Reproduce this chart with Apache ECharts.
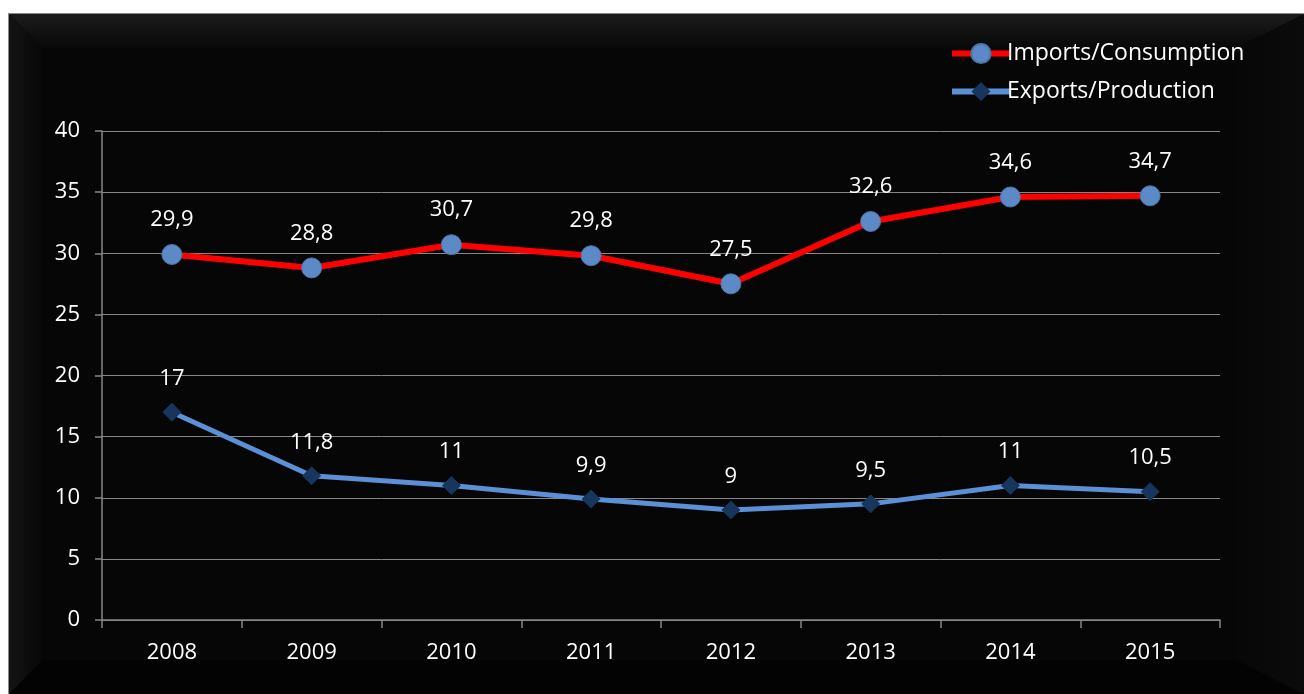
<!DOCTYPE html>
<html>
<head>
<meta charset="utf-8">
<script src="https://cdn.jsdelivr.net/npm/echarts@6/dist/echarts.min.js"></script>
<style>
  html, body { margin: 0; padding: 0; background: #ffffff; }
  #chart { width: 1304px; height: 694px; }
</style>
</head>
<body>
<div id="chart"></div>
<script>
// Yearly ratios (percent)
const years = ['2008', '2009', '2010', '2011', '2012', '2013', '2014', '2015'];
const importsConsumption = [29.9, 28.8, 30.7, 29.8, 27.5, 32.6, 34.6, 34.7];
const exportsProduction = [17, 11.8, 11, 9.9, 9, 9.5, 11, 10.5];
const seriesNames = ['Imports/Consumption', 'Exports/Production'];

const FONT = '"Open Sans", "Noto Sans", sans-serif';
const FS = 22;
const comma = p => String(p.value).replace('.', ',');

const chart = echarts.init(document.getElementById('chart'), null, { renderer: 'canvas' });

// Bevelled black panel behind the plot
const W = 1304, H = 694, X0 = 9, Y0 = 14, B = 34;
const frame = [
  { type: 'rect', z: -10, shape: { x: X0, y: Y0, width: W - X0 + 2, height: H - Y0 + 2 },
    style: { fill: '#070707', stroke: '#8a8a8a', lineWidth: 2 } },
  { type: 'polygon', z: -9, shape: { points: [[X0, Y0], [W, Y0], [W - B * 2, Y0 + B], [X0 + B, Y0 + B]] },
    style: { fill: new echarts.graphic.LinearGradient(0, 0, 0, 1, [
      { offset: 0, color: '#1c1c1c' }, { offset: 1, color: '#080808' }]) } },
  { type: 'polygon', z: -9, shape: { points: [[X0, Y0], [X0 + B, Y0 + B], [X0 + B, H - B], [X0, H]] },
    style: { fill: new echarts.graphic.LinearGradient(0, 0, 1, 0, [
      { offset: 0, color: '#141414' }, { offset: 1, color: '#070707' }]) } },
  { type: 'polygon', z: -9, shape: { points: [[W, Y0], [W, H], [W - B * 2, H - B], [W - B * 2, Y0 + B]] },
    style: { fill: new echarts.graphic.LinearGradient(1, 0, 0, 0, [
      { offset: 0, color: '#0b0b0b' }, { offset: 1, color: '#070707' }]) } },
  { type: 'polygon', z: -9, shape: { points: [[X0, H], [W, H], [W - B * 2, H - B], [X0 + B, H - B]] },
    style: { fill: '#030303' } },
  { type: 'rect', z: -8, shape: { x: X0 + B, y: Y0 + B, width: W - X0 - B * 3, height: H - Y0 - B * 2 },
    style: { fill: '#060606' } }
];

chart.setOption({
  backgroundColor: '#ffffff',
  animation: false,
  graphic: frame,
  textStyle: { fontFamily: FONT },
  legend: {
    orient: 'vertical',
    left: 944,
    top: 37,
    itemWidth: 58,
    itemHeight: 24,
    itemGap: 15,
    lineStyle: { width: 6 },
    textStyle: { color: '#ffffff', fontSize: 23, fontFamily: FONT, padding: [0, 0, 0, -8] },
    data: seriesNames
  },
  grid: { left: 102, right: 84, top: 131, bottom: 74, containLabel: false },
  xAxis: {
    type: 'category',
    data: years,
    boundaryGap: true,
    axisLine: { lineStyle: { color: '#868686', width: 1.5 } },
    axisTick: { show: true, length: 8, lineStyle: { color: '#868686', width: 1.5 } },
    axisLabel: { color: '#ffffff', fontSize: FS, margin: 22, fontFamily: FONT },
    splitLine: { show: false }
  },
  yAxis: {
    type: 'value',
    min: 0,
    max: 40,
    interval: 5,
    axisLine: { show: true, lineStyle: { color: '#868686', width: 1.5 } },
    axisTick: { show: true, length: 7, lineStyle: { color: '#868686', width: 1.5 } },
    axisLabel: { color: '#ffffff', fontSize: FS, margin: 22, fontFamily: FONT },
    splitLine: { show: true, lineStyle: { color: '#868686', width: 1 } }
  },
  series: [
    {
      name: seriesNames[0],
      type: 'line',
      data: importsConsumption,
      lineStyle: { color: '#ff0000', width: 6 },
      itemStyle: { color: '#5b8ac6', borderColor: '#4a76ad', borderWidth: 1 },
      color: '#ff0000',
      symbol: 'circle',
      symbolSize: 20,
      z: 3,
      label: { show: true, position: 'top', distance: 13, color: '#ffffff', fontSize: FS,
               fontFamily: FONT, formatter: comma }
    },
    {
      name: seriesNames[1],
      type: 'line',
      data: exportsProduction,
      lineStyle: { color: '#5b8fd6', width: 5 },
      itemStyle: { color: '#17365d', borderColor: '#17365d' },
      color: '#5b8fd6',
      symbol: 'diamond',
      symbolSize: 18,
      z: 2,
      label: { show: true, position: 'top', distance: 13, color: '#ffffff', fontSize: FS,
               fontFamily: FONT, formatter: comma }
    }
  ]
});
</script>
</body>
</html>
